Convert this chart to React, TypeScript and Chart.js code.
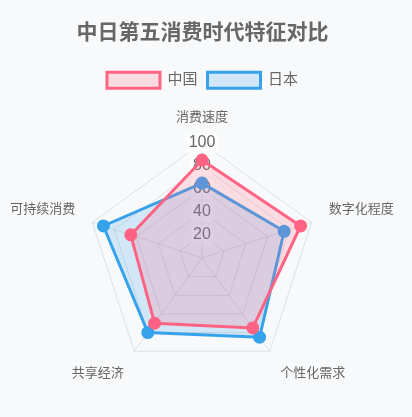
import { useEffect, useRef } from 'react';
import { Chart, registerables } from 'chart.js';

Chart.register(...registerables);

// Chart data
const dimensions = ['消费速度', '数字化程度', '个性化需求', '共享经济', '可持续消费'];
const chinaValues = [85, 90, 75, 70, 65];
const japanValues = [65, 75, 85, 80, 90];
const tickValues = [20, 40, 60, 80, 100];

const fontFamily = "Arial, 'Noto Sans CJK SC', sans-serif";

const App = () => {
  const chartRef = useRef<HTMLCanvasElement | null>(null);
  const chartInstance = useRef<Chart | null>(null);

  useEffect(() => {
    document.body.style.background = '#f8f9fa';
    if (!chartRef.current) return;
    if (chartInstance.current) {
      chartInstance.current.destroy();
    }
    const ctx = chartRef.current.getContext('2d');
    if (!ctx) return;

    chartInstance.current = new Chart(ctx, {
      type: 'radar',
      data: {
        labels: dimensions,
        datasets: [
          {
            label: '中国',
            data: chinaValues,
            borderColor: 'rgb(255, 99, 132)',
            backgroundColor: 'rgba(255, 99, 132, 0.2)',
            pointBackgroundColor: 'rgb(255, 99, 132)',
            pointBorderColor: 'rgb(255, 99, 132)',
            borderWidth: 3,
            pointRadius: 5
          },
          {
            label: '日本',
            data: japanValues,
            borderColor: 'rgb(54, 162, 235)',
            backgroundColor: 'rgba(54, 162, 235, 0.2)',
            pointBackgroundColor: 'rgb(54, 162, 235)',
            pointBorderColor: 'rgb(54, 162, 235)',
            borderWidth: 3,
            pointRadius: 5
          }
        ]
      },
      options: {
        responsive: true,
        maintainAspectRatio: false,
        animation: false,
        scales: {
          r: {
            min: 0,
            max: 100,
            afterBuildTicks: (scale) => {
              scale.ticks = [0, ...tickValues].map((v) => ({ value: v }));
            },
            ticks: {
              color: '#666',
              font: { size: 16, family: fontFamily }
            },
            pointLabels: {
              color: '#666',
              padding: 8,
              font: { size: 13, family: fontFamily }
            },
            grid: { color: 'rgba(0, 0, 0, 0.1)' },
            angleLines: { color: 'rgba(0, 0, 0, 0.1)' }
          }
        },
        plugins: {
          title: {
            display: true,
            text: '中日第五消费时代特征对比',
            color: '#666',
            font: { size: 21, weight: 'bold', family: fontFamily },
            padding: { top: 13, bottom: 16 }
          },
          legend: {
            labels: {
              color: '#666',
              boxWidth: 53,
              boxHeight: 16,
              padding: 10,
              font: { size: 15, family: fontFamily }
            }
          },
          tooltip: { enabled: false }
        }
      }
    });

    return () => {
      if (chartInstance.current) {
        chartInstance.current.destroy();
        chartInstance.current = null;
      }
    };
  }, []);

  return (
    <div style={{ height: '388px', width: '387px', marginLeft: '1px', position: 'relative' }}>
      <canvas ref={chartRef}></canvas>
    </div>
  );
};

export default App;
